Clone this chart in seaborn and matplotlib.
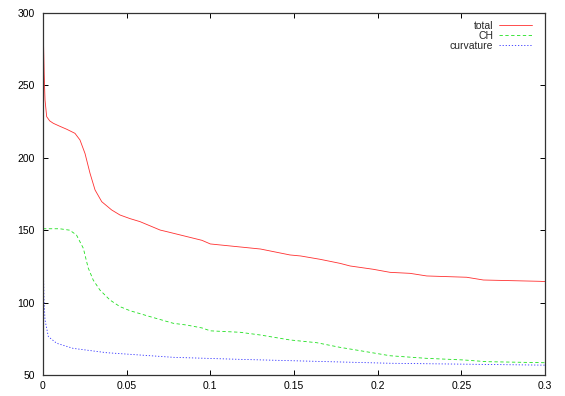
import numpy as np
import pandas as pd
import matplotlib
matplotlib.use("Agg")
import matplotlib.pyplot as plt
import seaborn as sns

# --- data ---
x_total = [0, 0.0003, 0.0007, 0.0012, 0.0022, 0.004, 0.0062, 0.01, 0.0142, 0.0191,
           0.0221, 0.0251, 0.0281, 0.0311, 0.0351, 0.041, 0.046, 0.052, 0.058, 0.07,
           0.074, 0.088, 0.095, 0.1, 0.13, 0.1476, 0.154, 0.1656, 0.1775, 0.1835,
           0.1974, 0.2074, 0.2194, 0.2293, 0.2532, 0.2632, 0.297, 0.3]
y_total = [300, 280, 258, 240, 228.4, 225.5, 223.8, 221.8, 219.7, 216.9,
           212.3, 203, 189.3, 177.8, 169.7, 164, 160.5, 158, 155.9, 150.1,
           149, 145, 143, 140.5, 137, 132.9, 132.2, 129.9, 127.1, 125.3,
           123, 120.9, 120.2, 118.4, 117.5, 115.6, 114.7, 114.5]

x_ch = [0, 0.01, 0.016, 0.020, 0.0241, 0.027, 0.030, 0.034, 0.040, 0.046,
        0.052, 0.064, 0.0779, 0.0859, 0.095, 0.1, 0.1178, 0.13, 0.1476, 0.1636,
        0.1775, 0.1895, 0.2074, 0.2293, 0.2512, 0.2652, 0.299, 0.3]
y_ch = [151, 151, 150, 146.7, 137.5, 124, 115.6, 108.7, 101.8, 97.2,
        94.4, 90.3, 85.7, 84.5, 82.5, 80.5, 79.5, 77.6, 74.2, 72.3,
        69.1, 66.8, 63.3, 61.5, 60.4, 59.2, 58.5, 58.5]

x_curv = [0, 0.0003, 0.0006, 0.0012, 0.0032, 0.0082, 0.018, 0.038, 0.058, 0.078,
          0.1178, 0.1476, 0.2074, 0.25, 0.3]
y_curv = [145, 120, 102, 88, 76.5, 71.9, 68.4, 65.4, 63.8, 62.2,
          60.8, 59.9, 58.1, 57.5, 56.8]

labels = ["total", "CH", "curvature"]
x_ticks = [0, 0.05, 0.1, 0.15, 0.2, 0.25, 0.3]
x_ticklabels = ["0", "0.05", "0.1", "0.15", "0.2", "0.25", "0.3"]
y_ticks = [50, 100, 150, 200, 250, 300]

# --- style ---
sns.set_style("ticks")
plt.rcParams["font.family"] = ["Liberation Sans", "DejaVu Sans"]
plt.rcParams["font.size"] = 7.5

fig = plt.figure(figsize=(5.65, 3.96), dpi=100)
ax = fig.add_axes([43 / 565, 1 - 375 / 396, 502 / 565, 362 / 396])

lw = 0.6
sns.lineplot(x=x_total, y=y_total, ax=ax, color="#ff3030", linewidth=lw,
             label=labels[0], sort=False, estimator=None)
sns.lineplot(x=x_ch, y=y_ch, ax=ax, color="#20e020", linewidth=lw,
             linestyle=(0, (4, 3)), label=labels[1], sort=False, estimator=None)
sns.lineplot(x=x_curv, y=y_curv, ax=ax, color="#3030ff", linewidth=lw,
             linestyle=(0, (1.5, 2.2)), label=labels[2], sort=False, estimator=None)

ax.set_xlim(0, 0.3)
ax.set_ylim(50, 300)
ax.set_xticks(x_ticks)
ax.set_xticklabels(x_ticklabels)
ax.set_yticks(y_ticks)
ax.set_xlabel("")
ax.set_ylabel("")
ax.tick_params(direction="in", length=3.5, width=0.7, top=True, right=True,
               labelsize=7.5, colors="black")
ax.tick_params(axis="x", pad=4)
ax.tick_params(axis="y", pad=6)
for s in ax.spines.values():
    s.set_visible(True)
    s.set_linewidth(0.9)
    s.set_color("#333333")

leg = ax.legend(loc="upper right", bbox_to_anchor=(1 - 13 / 502, 1 - 8 / 362),
                frameon=False, markerfirst=False, fontsize=7.5,
                handlelength=3.2, handletextpad=0.5, labelspacing=0.0,
                borderpad=0, borderaxespad=0)

fig.savefig("out.png", dpi=100, facecolor="white")
